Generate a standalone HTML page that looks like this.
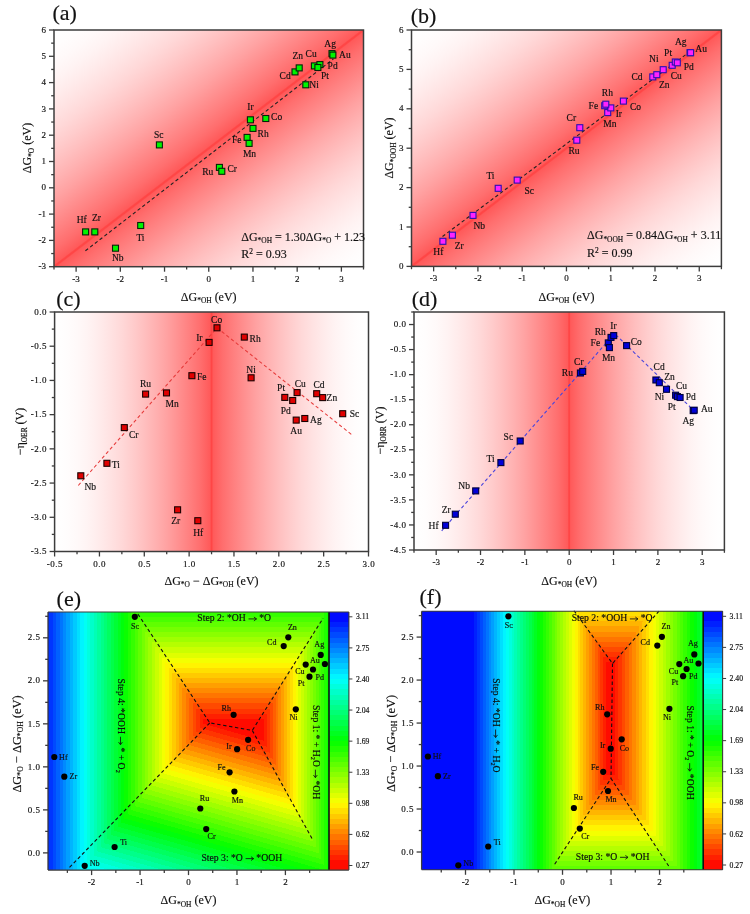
<!DOCTYPE html>
<html><head><meta charset="utf-8"><title>Figure</title>
<style>html,body{margin:0;padding:0;background:#fff}svg{display:block;will-change:transform;filter:blur(0.55px)}text{font-family:"Liberation Serif",serif;stroke:#111;stroke-width:.16px}</style></head>
<body>
<svg width="750" height="914" viewBox="0 0 750 914">
<rect width="750" height="914" fill="#fff"/>
<defs>
<linearGradient id="rb"><stop offset="0.0000" stop-color="#ff0b00"/><stop offset="0.0208" stop-color="#ff0b00"/><stop offset="0.0208" stop-color="#ff2000"/><stop offset="0.0417" stop-color="#ff2000"/><stop offset="0.0417" stop-color="#ff3500"/><stop offset="0.0625" stop-color="#ff3500"/><stop offset="0.0625" stop-color="#ff4a00"/><stop offset="0.0833" stop-color="#ff4a00"/><stop offset="0.0833" stop-color="#ff6000"/><stop offset="0.1042" stop-color="#ff6000"/><stop offset="0.1042" stop-color="#ff7500"/><stop offset="0.1250" stop-color="#ff7500"/><stop offset="0.1250" stop-color="#ff8a00"/><stop offset="0.1458" stop-color="#ff8a00"/><stop offset="0.1458" stop-color="#ff9f00"/><stop offset="0.1667" stop-color="#ff9f00"/><stop offset="0.1667" stop-color="#ffb500"/><stop offset="0.1875" stop-color="#ffb500"/><stop offset="0.1875" stop-color="#ffca00"/><stop offset="0.2083" stop-color="#ffca00"/><stop offset="0.2083" stop-color="#ffdf00"/><stop offset="0.2292" stop-color="#ffdf00"/><stop offset="0.2292" stop-color="#fff400"/><stop offset="0.2500" stop-color="#fff400"/><stop offset="0.2500" stop-color="#f4ff00"/><stop offset="0.2708" stop-color="#f4ff00"/><stop offset="0.2708" stop-color="#dfff00"/><stop offset="0.2917" stop-color="#dfff00"/><stop offset="0.2917" stop-color="#caff00"/><stop offset="0.3125" stop-color="#caff00"/><stop offset="0.3125" stop-color="#b5ff00"/><stop offset="0.3333" stop-color="#b5ff00"/><stop offset="0.3333" stop-color="#9fff00"/><stop offset="0.3542" stop-color="#9fff00"/><stop offset="0.3542" stop-color="#8aff00"/><stop offset="0.3750" stop-color="#8aff00"/><stop offset="0.3750" stop-color="#75ff00"/><stop offset="0.3958" stop-color="#75ff00"/><stop offset="0.3958" stop-color="#60ff00"/><stop offset="0.4167" stop-color="#60ff00"/><stop offset="0.4167" stop-color="#4aff00"/><stop offset="0.4375" stop-color="#4aff00"/><stop offset="0.4375" stop-color="#35ff00"/><stop offset="0.4583" stop-color="#35ff00"/><stop offset="0.4583" stop-color="#20ff00"/><stop offset="0.4792" stop-color="#20ff00"/><stop offset="0.4792" stop-color="#0bff00"/><stop offset="0.5000" stop-color="#0bff00"/><stop offset="0.5000" stop-color="#00ff0b"/><stop offset="0.5208" stop-color="#00ff0b"/><stop offset="0.5208" stop-color="#00ff20"/><stop offset="0.5417" stop-color="#00ff20"/><stop offset="0.5417" stop-color="#00ff35"/><stop offset="0.5625" stop-color="#00ff35"/><stop offset="0.5625" stop-color="#00ff4a"/><stop offset="0.5833" stop-color="#00ff4a"/><stop offset="0.5833" stop-color="#00ff60"/><stop offset="0.6042" stop-color="#00ff60"/><stop offset="0.6042" stop-color="#00ff75"/><stop offset="0.6250" stop-color="#00ff75"/><stop offset="0.6250" stop-color="#00ff8a"/><stop offset="0.6458" stop-color="#00ff8a"/><stop offset="0.6458" stop-color="#00ff9f"/><stop offset="0.6667" stop-color="#00ff9f"/><stop offset="0.6667" stop-color="#00ffb5"/><stop offset="0.6875" stop-color="#00ffb5"/><stop offset="0.6875" stop-color="#00ffca"/><stop offset="0.7083" stop-color="#00ffca"/><stop offset="0.7083" stop-color="#00ffdf"/><stop offset="0.7292" stop-color="#00ffdf"/><stop offset="0.7292" stop-color="#00fff4"/><stop offset="0.7500" stop-color="#00fff4"/><stop offset="0.7500" stop-color="#00f4ff"/><stop offset="0.7708" stop-color="#00f4ff"/><stop offset="0.7708" stop-color="#00dfff"/><stop offset="0.7917" stop-color="#00dfff"/><stop offset="0.7917" stop-color="#00caff"/><stop offset="0.8125" stop-color="#00caff"/><stop offset="0.8125" stop-color="#00b5ff"/><stop offset="0.8333" stop-color="#00b5ff"/><stop offset="0.8333" stop-color="#009fff"/><stop offset="0.8542" stop-color="#009fff"/><stop offset="0.8542" stop-color="#008aff"/><stop offset="0.8750" stop-color="#008aff"/><stop offset="0.8750" stop-color="#0075ff"/><stop offset="0.8958" stop-color="#0075ff"/><stop offset="0.8958" stop-color="#0060ff"/><stop offset="0.9167" stop-color="#0060ff"/><stop offset="0.9167" stop-color="#004aff"/><stop offset="0.9375" stop-color="#004aff"/><stop offset="0.9375" stop-color="#0035ff"/><stop offset="0.9583" stop-color="#0035ff"/><stop offset="0.9583" stop-color="#0020ff"/><stop offset="0.9792" stop-color="#0020ff"/><stop offset="0.9792" stop-color="#000bff"/><stop offset="1.0000" stop-color="#000bff"/></linearGradient>
<linearGradient id="ga" gradientUnits="userSpaceOnUse" x1="94.53" y1="-1.00" x2="322.97" y2="297.70"><stop offset="0.0000" stop-color="#ffffff"/><stop offset="0.0357" stop-color="#fffdfd"/><stop offset="0.0714" stop-color="#fff9f9"/><stop offset="0.1071" stop-color="#fff3f3"/><stop offset="0.1429" stop-color="#ffebeb"/><stop offset="0.1786" stop-color="#ffe2e2"/><stop offset="0.2143" stop-color="#ffd8d8"/><stop offset="0.2500" stop-color="#ffcccc"/><stop offset="0.2857" stop-color="#ffbfbf"/><stop offset="0.3214" stop-color="#ffb1b1"/><stop offset="0.3571" stop-color="#ffa2a2"/><stop offset="0.3929" stop-color="#ff9191"/><stop offset="0.4286" stop-color="#ff8080"/><stop offset="0.4643" stop-color="#ff6e6e"/><stop offset="0.4955" stop-color="#ff5a5a"/><stop offset="0.4985" stop-color="#ff4646"/><stop offset="0.5015" stop-color="#ff4646"/><stop offset="0.5045" stop-color="#ff5a5a"/><stop offset="0.5357" stop-color="#ff6e6e"/><stop offset="0.5714" stop-color="#ff8080"/><stop offset="0.6071" stop-color="#ff9191"/><stop offset="0.6429" stop-color="#ffa2a2"/><stop offset="0.6786" stop-color="#ffb1b1"/><stop offset="0.7143" stop-color="#ffbfbf"/><stop offset="0.7500" stop-color="#ffcccc"/><stop offset="0.7857" stop-color="#ffd8d8"/><stop offset="0.8214" stop-color="#ffe2e2"/><stop offset="0.8571" stop-color="#ffebeb"/><stop offset="0.8929" stop-color="#fff3f3"/><stop offset="0.9286" stop-color="#fff9f9"/><stop offset="0.9643" stop-color="#fffdfd"/><stop offset="1.0000" stop-color="#ffffff"/></linearGradient>
<linearGradient id="gb" gradientUnits="userSpaceOnUse" x1="452.45" y1="-1.24" x2="680.45" y2="297.64"><stop offset="0.0000" stop-color="#ffffff"/><stop offset="0.0357" stop-color="#fffdfd"/><stop offset="0.0714" stop-color="#fff9f9"/><stop offset="0.1071" stop-color="#fff3f3"/><stop offset="0.1429" stop-color="#ffebeb"/><stop offset="0.1786" stop-color="#ffe2e2"/><stop offset="0.2143" stop-color="#ffd8d8"/><stop offset="0.2500" stop-color="#ffcccc"/><stop offset="0.2857" stop-color="#ffbfbf"/><stop offset="0.3214" stop-color="#ffb1b1"/><stop offset="0.3571" stop-color="#ffa2a2"/><stop offset="0.3929" stop-color="#ff9191"/><stop offset="0.4286" stop-color="#ff8080"/><stop offset="0.4643" stop-color="#ff6e6e"/><stop offset="0.4955" stop-color="#ff5a5a"/><stop offset="0.4985" stop-color="#ff4646"/><stop offset="0.5015" stop-color="#ff4646"/><stop offset="0.5045" stop-color="#ff5a5a"/><stop offset="0.5357" stop-color="#ff6e6e"/><stop offset="0.5714" stop-color="#ff8080"/><stop offset="0.6071" stop-color="#ff9191"/><stop offset="0.6429" stop-color="#ffa2a2"/><stop offset="0.6786" stop-color="#ffb1b1"/><stop offset="0.7143" stop-color="#ffbfbf"/><stop offset="0.7500" stop-color="#ffcccc"/><stop offset="0.7857" stop-color="#ffd8d8"/><stop offset="0.8214" stop-color="#ffe2e2"/><stop offset="0.8571" stop-color="#ffebeb"/><stop offset="0.8929" stop-color="#fff3f3"/><stop offset="0.9286" stop-color="#fff9f9"/><stop offset="0.9643" stop-color="#fffdfd"/><stop offset="1.0000" stop-color="#ffffff"/></linearGradient>
<linearGradient id="gc" gradientUnits="userSpaceOnUse" x1="54.60" y1="0" x2="368.50" y2="0"><stop offset="0.0000" stop-color="#ffffff"/><stop offset="0.0357" stop-color="#fffdfd"/><stop offset="0.0714" stop-color="#fff9f9"/><stop offset="0.1071" stop-color="#fff3f3"/><stop offset="0.1429" stop-color="#ffebeb"/><stop offset="0.1786" stop-color="#ffe2e2"/><stop offset="0.2143" stop-color="#ffd8d8"/><stop offset="0.2500" stop-color="#ffcccc"/><stop offset="0.2857" stop-color="#ffbfbf"/><stop offset="0.3214" stop-color="#ffb1b1"/><stop offset="0.3571" stop-color="#ffa2a2"/><stop offset="0.3929" stop-color="#ff9191"/><stop offset="0.4286" stop-color="#ff8080"/><stop offset="0.4643" stop-color="#ff6e6e"/><stop offset="0.4955" stop-color="#ff5a5a"/><stop offset="0.4985" stop-color="#ff4646"/><stop offset="0.5015" stop-color="#ff4646"/><stop offset="0.5045" stop-color="#ff5a5a"/><stop offset="0.5357" stop-color="#ff6e6e"/><stop offset="0.5714" stop-color="#ff8080"/><stop offset="0.6071" stop-color="#ff9191"/><stop offset="0.6429" stop-color="#ffa2a2"/><stop offset="0.6786" stop-color="#ffb1b1"/><stop offset="0.7143" stop-color="#ffbfbf"/><stop offset="0.7500" stop-color="#ffcccc"/><stop offset="0.7857" stop-color="#ffd8d8"/><stop offset="0.8214" stop-color="#ffe2e2"/><stop offset="0.8571" stop-color="#ffebeb"/><stop offset="0.8929" stop-color="#fff3f3"/><stop offset="0.9286" stop-color="#fff9f9"/><stop offset="0.9643" stop-color="#fffdfd"/><stop offset="1.0000" stop-color="#ffffff"/></linearGradient>
<linearGradient id="gd" gradientUnits="userSpaceOnUse" x1="414.00" y1="0" x2="724.40" y2="0"><stop offset="0.0000" stop-color="#ffffff"/><stop offset="0.0357" stop-color="#fffdfd"/><stop offset="0.0714" stop-color="#fff9f9"/><stop offset="0.1071" stop-color="#fff3f3"/><stop offset="0.1429" stop-color="#ffebeb"/><stop offset="0.1786" stop-color="#ffe2e2"/><stop offset="0.2143" stop-color="#ffd8d8"/><stop offset="0.2500" stop-color="#ffcccc"/><stop offset="0.2857" stop-color="#ffbfbf"/><stop offset="0.3214" stop-color="#ffb1b1"/><stop offset="0.3571" stop-color="#ffa2a2"/><stop offset="0.3929" stop-color="#ff9191"/><stop offset="0.4286" stop-color="#ff8080"/><stop offset="0.4643" stop-color="#ff6e6e"/><stop offset="0.4955" stop-color="#ff5a5a"/><stop offset="0.4985" stop-color="#ff4646"/><stop offset="0.5015" stop-color="#ff4646"/><stop offset="0.5045" stop-color="#ff5a5a"/><stop offset="0.5357" stop-color="#ff6e6e"/><stop offset="0.5714" stop-color="#ff8080"/><stop offset="0.6071" stop-color="#ff9191"/><stop offset="0.6429" stop-color="#ffa2a2"/><stop offset="0.6786" stop-color="#ffb1b1"/><stop offset="0.7143" stop-color="#ffbfbf"/><stop offset="0.7500" stop-color="#ffcccc"/><stop offset="0.7857" stop-color="#ffd8d8"/><stop offset="0.8214" stop-color="#ffe2e2"/><stop offset="0.8571" stop-color="#ffebeb"/><stop offset="0.8929" stop-color="#fff3f3"/><stop offset="0.9286" stop-color="#fff9f9"/><stop offset="0.9643" stop-color="#fffdfd"/><stop offset="1.0000" stop-color="#ffffff"/></linearGradient>
<linearGradient id="eg0" href="#rb" gradientUnits="userSpaceOnUse" x1="261.17" y1="0.00" x2="398.77" y2="0.00"/>
<linearGradient id="eg1" href="#rb" gradientUnits="userSpaceOnUse" x1="-0.00" y1="723.84" x2="0.00" y2="479.51"/>
<linearGradient id="eg2" href="#rb" gradientUnits="userSpaceOnUse" x1="-173.73" y1="611.46" x2="-237.97" y2="837.54"/>
<linearGradient id="eg3" href="#rb" gradientUnits="userSpaceOnUse" x1="206.38" y1="-0.00" x2="42.58" y2="0.00"/>
<linearGradient id="ecb" href="#rb" gradientUnits="userSpaceOnUse" x1="0" y1="865.50" x2="0" y2="616.80"/>
<linearGradient id="fg0" href="#rb" gradientUnits="userSpaceOnUse" x1="611.61" y1="0.00" x2="775.62" y2="0.00"/>
<linearGradient id="fg1" href="#rb" gradientUnits="userSpaceOnUse" x1="-0.00" y1="667.18" x2="0.00" y2="423.03"/>
<linearGradient id="fg2" href="#rb" gradientUnits="userSpaceOnUse" x1="0.00" y1="769.48" x2="0.00" y2="1013.62"/>
<linearGradient id="fg3" href="#rb" gradientUnits="userSpaceOnUse" x1="609.09" y1="-0.00" x2="471.32" y2="0.00"/>
<linearGradient id="fcb" href="#rb" gradientUnits="userSpaceOnUse" x1="0" y1="865.00" x2="0" y2="616.30"/>
</defs>
<rect x="54.0" y="30.0" width="309.50" height="236.70" fill="url(#ga)"/>
<line x1="85.4" y1="250.8" x2="333.4" y2="59.0" stroke="#222" stroke-width="1.1" stroke-dasharray="3.4 2.6"/>
<g stroke="#3c3c3c" stroke-width="1.3" fill="none"><line x1="54.00" y1="266.70" x2="54.00" y2="269.50"/><line x1="98.21" y1="266.70" x2="98.21" y2="269.50"/><line x1="142.43" y1="266.70" x2="142.43" y2="269.50"/><line x1="186.64" y1="266.70" x2="186.64" y2="269.50"/><line x1="230.86" y1="266.70" x2="230.86" y2="269.50"/><line x1="275.07" y1="266.70" x2="275.07" y2="269.50"/><line x1="319.29" y1="266.70" x2="319.29" y2="269.50"/><line x1="363.50" y1="266.70" x2="363.50" y2="269.50"/><line x1="76.11" y1="266.70" x2="76.11" y2="271.70"/><line x1="120.32" y1="266.70" x2="120.32" y2="271.70"/><line x1="164.54" y1="266.70" x2="164.54" y2="271.70"/><line x1="208.75" y1="266.70" x2="208.75" y2="271.70"/><line x1="252.96" y1="266.70" x2="252.96" y2="271.70"/><line x1="297.18" y1="266.70" x2="297.18" y2="271.70"/><line x1="341.39" y1="266.70" x2="341.39" y2="271.70"/><line x1="54.00" y1="253.55" x2="51.20" y2="253.55"/><line x1="54.00" y1="227.25" x2="51.20" y2="227.25"/><line x1="54.00" y1="200.95" x2="51.20" y2="200.95"/><line x1="54.00" y1="174.65" x2="51.20" y2="174.65"/><line x1="54.00" y1="148.35" x2="51.20" y2="148.35"/><line x1="54.00" y1="122.05" x2="51.20" y2="122.05"/><line x1="54.00" y1="95.75" x2="51.20" y2="95.75"/><line x1="54.00" y1="69.45" x2="51.20" y2="69.45"/><line x1="54.00" y1="43.15" x2="51.20" y2="43.15"/><line x1="54.00" y1="266.70" x2="49.00" y2="266.70"/><line x1="54.00" y1="240.40" x2="49.00" y2="240.40"/><line x1="54.00" y1="214.10" x2="49.00" y2="214.10"/><line x1="54.00" y1="187.80" x2="49.00" y2="187.80"/><line x1="54.00" y1="161.50" x2="49.00" y2="161.50"/><line x1="54.00" y1="135.20" x2="49.00" y2="135.20"/><line x1="54.00" y1="108.90" x2="49.00" y2="108.90"/><line x1="54.00" y1="82.60" x2="49.00" y2="82.60"/><line x1="54.00" y1="56.30" x2="49.00" y2="56.30"/><line x1="54.00" y1="30.00" x2="49.00" y2="30.00"/></g>
<rect x="54.00" y="30.00" width="309.50" height="236.70" fill="none" stroke="#3c3c3c" stroke-width="1.5"/>
<text x="76.1" y="281.7" font-size="9.0" text-anchor="middle" fill="#111">-3</text><text x="120.3" y="281.7" font-size="9.0" text-anchor="middle" fill="#111">-2</text><text x="164.5" y="281.7" font-size="9.0" text-anchor="middle" fill="#111">-1</text><text x="208.8" y="281.7" font-size="9.0" text-anchor="middle" fill="#111">0</text><text x="253.0" y="281.7" font-size="9.0" text-anchor="middle" fill="#111">1</text><text x="297.2" y="281.7" font-size="9.0" text-anchor="middle" fill="#111">2</text><text x="341.4" y="281.7" font-size="9.0" text-anchor="middle" fill="#111">3</text><text x="46.0" y="269.3" font-size="9.0" text-anchor="end" fill="#111">-3</text><text x="46.0" y="243.0" font-size="9.0" text-anchor="end" fill="#111">-2</text><text x="46.0" y="216.7" font-size="9.0" text-anchor="end" fill="#111">-1</text><text x="46.0" y="190.4" font-size="9.0" text-anchor="end" fill="#111">0</text><text x="46.0" y="164.1" font-size="9.0" text-anchor="end" fill="#111">1</text><text x="46.0" y="137.8" font-size="9.0" text-anchor="end" fill="#111">2</text><text x="46.0" y="111.5" font-size="9.0" text-anchor="end" fill="#111">3</text><text x="46.0" y="85.2" font-size="9.0" text-anchor="end" fill="#111">4</text><text x="46.0" y="58.9" font-size="9.0" text-anchor="end" fill="#111">5</text><text x="46.0" y="32.6" font-size="9.0" text-anchor="end" fill="#111">6</text>
<g fill="#00f400" stroke="#082008" stroke-width="1.1"><rect x="82.6" y="228.9" width="6.0" height="6.0"/><rect x="91.8" y="228.9" width="6.0" height="6.0"/><rect x="112.5" y="245.2" width="6.0" height="6.0"/><rect x="137.7" y="222.5" width="6.0" height="6.0"/><rect x="156.4" y="141.9" width="6.0" height="6.0"/><rect x="216.4" y="164.4" width="6.0" height="6.0"/><rect x="218.8" y="168.3" width="6.0" height="6.0"/><rect x="244.1" y="134.4" width="6.0" height="6.0"/><rect x="246.1" y="140.4" width="6.0" height="6.0"/><rect x="247.4" y="116.8" width="6.0" height="6.0"/><rect x="250.0" y="125.4" width="6.0" height="6.0"/><rect x="262.8" y="115.5" width="6.0" height="6.0"/><rect x="292.0" y="68.9" width="6.0" height="6.0"/><rect x="296.2" y="64.9" width="6.0" height="6.0"/><rect x="302.8" y="81.8" width="6.0" height="6.0"/><rect x="311.4" y="62.9" width="6.0" height="6.0"/><rect x="316.9" y="61.6" width="6.0" height="6.0"/><rect x="314.9" y="64.5" width="6.0" height="6.0"/><rect x="329.0" y="50.6" width="6.0" height="6.0"/><rect x="329.9" y="52.1" width="6.0" height="6.0"/></g>
<text x="324.3" y="47.0" font-size="9.5" text-anchor="start" fill="#111">Ag</text><text x="339.1" y="58.0" font-size="9.5" text-anchor="start" fill="#111">Au</text><text x="305.6" y="56.9" font-size="9.5" text-anchor="start" fill="#111">Cu</text><text x="292.4" y="59.1" font-size="9.5" text-anchor="start" fill="#111">Zn</text><text x="327.6" y="69.0" font-size="9.5" text-anchor="start" fill="#111">Pd</text><text x="321.0" y="78.9" font-size="9.5" text-anchor="start" fill="#111">Pt</text><text x="279.6" y="78.9" font-size="9.5" text-anchor="start" fill="#111">Cd</text><text x="309.3" y="87.7" font-size="9.5" text-anchor="start" fill="#111">Ni</text><text x="247.3" y="110.1" font-size="9.5" text-anchor="start" fill="#111">Ir</text><text x="271.1" y="120.3" font-size="9.5" text-anchor="start" fill="#111">Co</text><text x="257.6" y="137.2" font-size="9.5" text-anchor="start" fill="#111">Rh</text><text x="231.9" y="142.7" font-size="9.5" text-anchor="start" fill="#111">Fe</text><text x="242.9" y="157.0" font-size="9.5" text-anchor="start" fill="#111">Mn</text><text x="202.2" y="175.0" font-size="9.5" text-anchor="start" fill="#111">Ru</text><text x="227.5" y="172.0" font-size="9.5" text-anchor="start" fill="#111">Cr</text><text x="154.0" y="137.5" font-size="9.5" text-anchor="start" fill="#111">Sc</text><text x="76.7" y="222.8" font-size="9.5" text-anchor="start" fill="#111">Hf</text><text x="92.0" y="220.6" font-size="9.5" text-anchor="start" fill="#111">Zr</text><text x="136.4" y="240.7" font-size="9.5" text-anchor="start" fill="#111">Ti</text><text x="111.9" y="261.2" font-size="9.5" text-anchor="start" fill="#111">Nb</text>
<text x="241.2" y="240.8" font-size="12" text-anchor="start" fill="#111">&#916;G<tspan font-size="7.44" dy="2.64">*OH</tspan><tspan dy="-2.64" font-size="12">&#8203;</tspan> = 1.30&#916;G<tspan font-size="7.44" dy="2.64">*O</tspan><tspan dy="-2.64" font-size="12">&#8203;</tspan> + 1.23</text>
<text x="241.2" y="258.3" font-size="12" text-anchor="start" fill="#111">R<tspan font-size="7.44" dy="-4.56">2</tspan><tspan dy="4.56" font-size="12">&#8203;</tspan> = 0.93</text>
<text x="208.7" y="300.8" font-size="12" text-anchor="middle" fill="#111">&#916;G<tspan font-size="7.44" dy="2.64">*OH</tspan><tspan dy="-2.64" font-size="12">&#8203;</tspan> (eV)</text>
<text x="31.0" y="148.0" font-size="12" text-anchor="middle" fill="#111" transform="rotate(-90 31.0 148.0)">&#916;G<tspan font-size="7.44" dy="2.64">*O</tspan><tspan dy="-2.64" font-size="12">&#8203;</tspan> (eV)</text>
<text x="52.4" y="20.3" font-size="22" text-anchor="start" fill="#111">(a)</text>
<rect x="411.5" y="30.0" width="309.90" height="236.40" fill="url(#gb)"/>
<line x1="442.5" y1="236.5" x2="691.3" y2="50.5" stroke="#222" stroke-width="1.1" stroke-dasharray="3.4 2.6"/>
<g stroke="#3c3c3c" stroke-width="1.3" fill="none"><line x1="411.50" y1="266.40" x2="411.50" y2="269.20"/><line x1="455.77" y1="266.40" x2="455.77" y2="269.20"/><line x1="500.04" y1="266.40" x2="500.04" y2="269.20"/><line x1="544.31" y1="266.40" x2="544.31" y2="269.20"/><line x1="588.59" y1="266.40" x2="588.59" y2="269.20"/><line x1="632.86" y1="266.40" x2="632.86" y2="269.20"/><line x1="677.13" y1="266.40" x2="677.13" y2="269.20"/><line x1="721.40" y1="266.40" x2="721.40" y2="269.20"/><line x1="433.64" y1="266.40" x2="433.64" y2="271.40"/><line x1="477.91" y1="266.40" x2="477.91" y2="271.40"/><line x1="522.18" y1="266.40" x2="522.18" y2="271.40"/><line x1="566.45" y1="266.40" x2="566.45" y2="271.40"/><line x1="610.72" y1="266.40" x2="610.72" y2="271.40"/><line x1="654.99" y1="266.40" x2="654.99" y2="271.40"/><line x1="699.26" y1="266.40" x2="699.26" y2="271.40"/><line x1="411.50" y1="246.70" x2="408.70" y2="246.70"/><line x1="411.50" y1="207.30" x2="408.70" y2="207.30"/><line x1="411.50" y1="167.90" x2="408.70" y2="167.90"/><line x1="411.50" y1="128.50" x2="408.70" y2="128.50"/><line x1="411.50" y1="89.10" x2="408.70" y2="89.10"/><line x1="411.50" y1="49.70" x2="408.70" y2="49.70"/><line x1="411.50" y1="266.40" x2="406.50" y2="266.40"/><line x1="411.50" y1="227.00" x2="406.50" y2="227.00"/><line x1="411.50" y1="187.60" x2="406.50" y2="187.60"/><line x1="411.50" y1="148.20" x2="406.50" y2="148.20"/><line x1="411.50" y1="108.80" x2="406.50" y2="108.80"/><line x1="411.50" y1="69.40" x2="406.50" y2="69.40"/><line x1="411.50" y1="30.00" x2="406.50" y2="30.00"/></g>
<rect x="411.50" y="30.00" width="309.90" height="236.40" fill="none" stroke="#3c3c3c" stroke-width="1.5"/>
<text x="433.6" y="281.4" font-size="9.0" text-anchor="middle" fill="#111">-3</text><text x="477.9" y="281.4" font-size="9.0" text-anchor="middle" fill="#111">-2</text><text x="522.2" y="281.4" font-size="9.0" text-anchor="middle" fill="#111">-1</text><text x="566.5" y="281.4" font-size="9.0" text-anchor="middle" fill="#111">0</text><text x="610.7" y="281.4" font-size="9.0" text-anchor="middle" fill="#111">1</text><text x="655.0" y="281.4" font-size="9.0" text-anchor="middle" fill="#111">2</text><text x="699.3" y="281.4" font-size="9.0" text-anchor="middle" fill="#111">3</text><text x="403.5" y="269.0" font-size="9.0" text-anchor="end" fill="#111">0</text><text x="403.5" y="229.6" font-size="9.0" text-anchor="end" fill="#111">1</text><text x="403.5" y="190.2" font-size="9.0" text-anchor="end" fill="#111">2</text><text x="403.5" y="150.8" font-size="9.0" text-anchor="end" fill="#111">3</text><text x="403.5" y="111.4" font-size="9.0" text-anchor="end" fill="#111">4</text><text x="403.5" y="72.0" font-size="9.0" text-anchor="end" fill="#111">5</text><text x="403.5" y="32.6" font-size="9.0" text-anchor="end" fill="#111">6</text>
<g fill="#ff22ff" stroke="#2a10b0" stroke-width="1.1"><rect x="439.9" y="238.3" width="6.0" height="6.0"/><rect x="449.4" y="232.2" width="6.0" height="6.0"/><rect x="470.0" y="212.4" width="6.0" height="6.0"/><rect x="495.2" y="185.3" width="6.0" height="6.0"/><rect x="514.2" y="177.1" width="6.0" height="6.0"/><rect x="573.8" y="137.2" width="6.0" height="6.0"/><rect x="576.8" y="124.7" width="6.0" height="6.0"/><rect x="604.7" y="109.6" width="6.0" height="6.0"/><rect x="607.8" y="104.9" width="6.0" height="6.0"/><rect x="601.7" y="102.7" width="6.0" height="6.0"/><rect x="602.8" y="101.2" width="6.0" height="6.0"/><rect x="620.4" y="98.1" width="6.0" height="6.0"/><rect x="649.8" y="73.9" width="6.0" height="6.0"/><rect x="653.8" y="71.7" width="6.0" height="6.0"/><rect x="660.2" y="66.7" width="6.0" height="6.0"/><rect x="669.2" y="62.3" width="6.0" height="6.0"/><rect x="672.3" y="59.0" width="6.0" height="6.0"/><rect x="674.3" y="59.8" width="6.0" height="6.0"/><rect x="687.0" y="49.7" width="6.0" height="6.0"/><rect x="687.6" y="49.7" width="6.0" height="6.0"/></g>
<text x="674.9" y="45.2" font-size="9.5" text-anchor="start" fill="#111">Ag</text><text x="695.3" y="51.8" font-size="9.5" text-anchor="start" fill="#111">Au</text><text x="664.1" y="55.8" font-size="9.5" text-anchor="start" fill="#111">Pt</text><text x="649.1" y="62.4" font-size="9.5" text-anchor="start" fill="#111">Ni</text><text x="683.7" y="69.7" font-size="9.5" text-anchor="start" fill="#111">Pd</text><text x="670.7" y="78.5" font-size="9.5" text-anchor="start" fill="#111">Cu</text><text x="631.5" y="80.4" font-size="9.5" text-anchor="start" fill="#111">Cd</text><text x="659.0" y="88.1" font-size="9.5" text-anchor="start" fill="#111">Zn</text><text x="601.8" y="96.1" font-size="9.5" text-anchor="start" fill="#111">Rh</text><text x="588.6" y="109.3" font-size="9.5" text-anchor="start" fill="#111">Fe</text><text x="630.0" y="109.7" font-size="9.5" text-anchor="start" fill="#111">Co</text><text x="615.7" y="117.0" font-size="9.5" text-anchor="start" fill="#111">Ir</text><text x="603.3" y="127.3" font-size="9.5" text-anchor="start" fill="#111">Mn</text><text x="566.6" y="121.1" font-size="9.5" text-anchor="start" fill="#111">Cr</text><text x="568.4" y="154.4" font-size="9.5" text-anchor="start" fill="#111">Ru</text><text x="486.4" y="178.7" font-size="9.5" text-anchor="start" fill="#111">Ti</text><text x="524.5" y="194.1" font-size="9.5" text-anchor="start" fill="#111">Sc</text><text x="473.5" y="229.0" font-size="9.5" text-anchor="start" fill="#111">Nb</text><text x="454.7" y="249.0" font-size="9.5" text-anchor="start" fill="#111">Zr</text><text x="433.3" y="254.7" font-size="9.5" text-anchor="start" fill="#111">Hf</text>
<text x="587.0" y="239.0" font-size="12" text-anchor="start" fill="#111">&#916;G<tspan font-size="7.44" dy="2.64">*OOH</tspan><tspan dy="-2.64" font-size="12">&#8203;</tspan> = 0.84&#916;G<tspan font-size="7.44" dy="2.64">*OH</tspan><tspan dy="-2.64" font-size="12">&#8203;</tspan> + 3.11</text>
<text x="587.0" y="257.2" font-size="12" text-anchor="start" fill="#111">R<tspan font-size="7.44" dy="-4.56">2</tspan><tspan dy="4.56" font-size="12">&#8203;</tspan> = 0.99</text>
<text x="566.5" y="300.8" font-size="12" text-anchor="middle" fill="#111">&#916;G<tspan font-size="7.44" dy="2.64">*OH</tspan><tspan dy="-2.64" font-size="12">&#8203;</tspan> (eV)</text>
<text x="393.0" y="148.0" font-size="12" text-anchor="middle" fill="#111" transform="rotate(-90 393.0 148.0)">&#916;G<tspan font-size="7.44" dy="2.64">*OOH</tspan><tspan dy="-2.64" font-size="12">&#8203;</tspan> (eV)</text>
<text x="410.8" y="23.2" font-size="22" text-anchor="start" fill="#111">(b)</text>
<rect x="54.6" y="312.0" width="313.90" height="239.50" fill="url(#gc)"/>
<polyline points="78.3,485.5 217,327.8 351.9,434.8" fill="none" stroke="#e63a3a" stroke-width="1.05" stroke-dasharray="3.4 2.6"/>
<g stroke="#3c3c3c" stroke-width="1.3" fill="none"><line x1="77.02" y1="551.50" x2="77.02" y2="554.30"/><line x1="121.86" y1="551.50" x2="121.86" y2="554.30"/><line x1="166.71" y1="551.50" x2="166.71" y2="554.30"/><line x1="211.55" y1="551.50" x2="211.55" y2="554.30"/><line x1="256.39" y1="551.50" x2="256.39" y2="554.30"/><line x1="301.24" y1="551.50" x2="301.24" y2="554.30"/><line x1="346.08" y1="551.50" x2="346.08" y2="554.30"/><line x1="54.60" y1="551.50" x2="54.60" y2="556.50"/><line x1="99.44" y1="551.50" x2="99.44" y2="556.50"/><line x1="144.29" y1="551.50" x2="144.29" y2="556.50"/><line x1="189.13" y1="551.50" x2="189.13" y2="556.50"/><line x1="233.97" y1="551.50" x2="233.97" y2="556.50"/><line x1="278.81" y1="551.50" x2="278.81" y2="556.50"/><line x1="323.66" y1="551.50" x2="323.66" y2="556.50"/><line x1="368.50" y1="551.50" x2="368.50" y2="556.50"/><line x1="54.60" y1="534.39" x2="51.80" y2="534.39"/><line x1="54.60" y1="500.18" x2="51.80" y2="500.18"/><line x1="54.60" y1="465.96" x2="51.80" y2="465.96"/><line x1="54.60" y1="431.75" x2="51.80" y2="431.75"/><line x1="54.60" y1="397.54" x2="51.80" y2="397.54"/><line x1="54.60" y1="363.32" x2="51.80" y2="363.32"/><line x1="54.60" y1="329.11" x2="51.80" y2="329.11"/><line x1="54.60" y1="551.50" x2="49.60" y2="551.50"/><line x1="54.60" y1="517.29" x2="49.60" y2="517.29"/><line x1="54.60" y1="483.07" x2="49.60" y2="483.07"/><line x1="54.60" y1="448.86" x2="49.60" y2="448.86"/><line x1="54.60" y1="414.64" x2="49.60" y2="414.64"/><line x1="54.60" y1="380.43" x2="49.60" y2="380.43"/><line x1="54.60" y1="346.21" x2="49.60" y2="346.21"/><line x1="54.60" y1="312.00" x2="49.60" y2="312.00"/></g>
<rect x="54.60" y="312.00" width="313.90" height="239.50" fill="none" stroke="#3c3c3c" stroke-width="1.5"/>
<text x="54.9" y="566.5" font-size="9.0" text-anchor="middle" fill="#111" letter-spacing="0.5">-0.5</text><text x="99.7" y="566.5" font-size="9.0" text-anchor="middle" fill="#111" letter-spacing="0.5">0.0</text><text x="144.5" y="566.5" font-size="9.0" text-anchor="middle" fill="#111" letter-spacing="0.5">0.5</text><text x="189.4" y="566.5" font-size="9.0" text-anchor="middle" fill="#111" letter-spacing="0.5">1.0</text><text x="234.2" y="566.5" font-size="9.0" text-anchor="middle" fill="#111" letter-spacing="0.5">1.5</text><text x="279.1" y="566.5" font-size="9.0" text-anchor="middle" fill="#111" letter-spacing="0.5">2.0</text><text x="323.9" y="566.5" font-size="9.0" text-anchor="middle" fill="#111" letter-spacing="0.5">2.5</text><text x="368.8" y="566.5" font-size="9.0" text-anchor="middle" fill="#111" letter-spacing="0.5">3.0</text><text x="47.1" y="554.1" font-size="9.0" text-anchor="end" fill="#111" letter-spacing="0.5">-3.5</text><text x="47.1" y="519.9" font-size="9.0" text-anchor="end" fill="#111" letter-spacing="0.5">-3.0</text><text x="47.1" y="485.7" font-size="9.0" text-anchor="end" fill="#111" letter-spacing="0.5">-2.5</text><text x="47.1" y="451.5" font-size="9.0" text-anchor="end" fill="#111" letter-spacing="0.5">-2.0</text><text x="47.1" y="417.3" font-size="9.0" text-anchor="end" fill="#111" letter-spacing="0.5">-1.5</text><text x="47.1" y="383.0" font-size="9.0" text-anchor="end" fill="#111" letter-spacing="0.5">-1.0</text><text x="47.1" y="348.8" font-size="9.0" text-anchor="end" fill="#111" letter-spacing="0.5">-0.5</text><text x="47.1" y="314.6" font-size="9.0" text-anchor="end" fill="#111" letter-spacing="0.5">0.0</text>
<g fill="#e00000" stroke="#1a0000" stroke-width="1.1"><rect x="214.0" y="324.8" width="6.0" height="6.0"/><rect x="206.1" y="339.4" width="6.0" height="6.0"/><rect x="188.9" y="372.7" width="6.0" height="6.0"/><rect x="163.5" y="389.9" width="6.0" height="6.0"/><rect x="142.6" y="391.1" width="6.0" height="6.0"/><rect x="121.3" y="424.6" width="6.0" height="6.0"/><rect x="103.9" y="460.3" width="6.0" height="6.0"/><rect x="77.8" y="472.8" width="6.0" height="6.0"/><rect x="174.6" y="506.8" width="6.0" height="6.0"/><rect x="194.8" y="517.7" width="6.0" height="6.0"/><rect x="241.3" y="334.1" width="6.0" height="6.0"/><rect x="248.1" y="374.8" width="6.0" height="6.0"/><rect x="281.8" y="394.4" width="6.0" height="6.0"/><rect x="294.1" y="389.6" width="6.0" height="6.0"/><rect x="289.7" y="397.5" width="6.0" height="6.0"/><rect x="313.7" y="390.7" width="6.0" height="6.0"/><rect x="319.7" y="394.6" width="6.0" height="6.0"/><rect x="293.2" y="417.1" width="6.0" height="6.0"/><rect x="301.8" y="415.5" width="6.0" height="6.0"/><rect x="339.7" y="410.7" width="6.0" height="6.0"/></g>
<text x="211.1" y="323.0" font-size="9.5" text-anchor="start" fill="#111">Co</text><text x="196.2" y="340.9" font-size="9.5" text-anchor="start" fill="#111">Ir</text><text x="249.6" y="341.7" font-size="9.5" text-anchor="start" fill="#111">Rh</text><text x="196.9" y="379.5" font-size="9.5" text-anchor="start" fill="#111">Fe</text><text x="140.0" y="386.7" font-size="9.5" text-anchor="start" fill="#111">Ru</text><text x="165.6" y="406.7" font-size="9.5" text-anchor="start" fill="#111">Mn</text><text x="128.9" y="437.9" font-size="9.5" text-anchor="start" fill="#111">Cr</text><text x="111.7" y="468.2" font-size="9.5" text-anchor="start" fill="#111">Ti</text><text x="84.5" y="490.2" font-size="9.5" text-anchor="start" fill="#111">Nb</text><text x="171.3" y="524.2" font-size="9.5" text-anchor="start" fill="#111">Zr</text><text x="193.2" y="535.5" font-size="9.5" text-anchor="start" fill="#111">Hf</text><text x="246.3" y="373.3" font-size="9.5" text-anchor="start" fill="#111">Ni</text><text x="277.1" y="391.2" font-size="9.5" text-anchor="start" fill="#111">Pt</text><text x="294.7" y="386.8" font-size="9.5" text-anchor="start" fill="#111">Cu</text><text x="313.4" y="388.3" font-size="9.5" text-anchor="start" fill="#111">Cd</text><text x="326.6" y="401.1" font-size="9.5" text-anchor="start" fill="#111">Zn</text><text x="280.8" y="413.6" font-size="9.5" text-anchor="start" fill="#111">Pd</text><text x="290.3" y="434.1" font-size="9.5" text-anchor="start" fill="#111">Au</text><text x="310.1" y="423.1" font-size="9.5" text-anchor="start" fill="#111">Ag</text><text x="349.7" y="417.3" font-size="9.5" text-anchor="start" fill="#111">Sc</text>
<text x="211.5" y="584.5" font-size="12" text-anchor="middle" fill="#111">&#916;G<tspan font-size="7.44" dy="2.64">*O</tspan><tspan dy="-2.64" font-size="12">&#8203;</tspan> &#8722; &#916;G<tspan font-size="7.44" dy="2.64">*OH</tspan><tspan dy="-2.64" font-size="12">&#8203;</tspan> (eV)</text>
<text x="24.0" y="431.5" font-size="12" text-anchor="middle" fill="#111" transform="rotate(-90 24.0 431.5)">&#8722;&#951;<tspan font-size="7.44" dy="2.64">OER</tspan><tspan dy="-2.64" font-size="12">&#8203;</tspan> (V)</text>
<text x="56.2" y="306.1" font-size="22" text-anchor="start" fill="#111">(c)</text>
<rect x="414.0" y="312.0" width="310.40" height="238.00" fill="url(#gd)"/>
<polyline points="441.7,530.8 614.5,333.5 693.7,410.4" fill="none" stroke="#4a44dc" stroke-width="1.1" stroke-dasharray="3.4 2.6"/>
<g stroke="#3c3c3c" stroke-width="1.3" fill="none"><line x1="414.00" y1="550.00" x2="414.00" y2="552.80"/><line x1="458.34" y1="550.00" x2="458.34" y2="552.80"/><line x1="502.69" y1="550.00" x2="502.69" y2="552.80"/><line x1="547.03" y1="550.00" x2="547.03" y2="552.80"/><line x1="591.37" y1="550.00" x2="591.37" y2="552.80"/><line x1="635.71" y1="550.00" x2="635.71" y2="552.80"/><line x1="680.06" y1="550.00" x2="680.06" y2="552.80"/><line x1="724.40" y1="550.00" x2="724.40" y2="552.80"/><line x1="436.17" y1="550.00" x2="436.17" y2="555.00"/><line x1="480.51" y1="550.00" x2="480.51" y2="555.00"/><line x1="524.86" y1="550.00" x2="524.86" y2="555.00"/><line x1="569.20" y1="550.00" x2="569.20" y2="555.00"/><line x1="613.54" y1="550.00" x2="613.54" y2="555.00"/><line x1="657.89" y1="550.00" x2="657.89" y2="555.00"/><line x1="702.23" y1="550.00" x2="702.23" y2="555.00"/><line x1="414.00" y1="537.47" x2="411.20" y2="537.47"/><line x1="414.00" y1="512.42" x2="411.20" y2="512.42"/><line x1="414.00" y1="487.37" x2="411.20" y2="487.37"/><line x1="414.00" y1="462.32" x2="411.20" y2="462.32"/><line x1="414.00" y1="437.26" x2="411.20" y2="437.26"/><line x1="414.00" y1="412.21" x2="411.20" y2="412.21"/><line x1="414.00" y1="387.16" x2="411.20" y2="387.16"/><line x1="414.00" y1="362.11" x2="411.20" y2="362.11"/><line x1="414.00" y1="337.05" x2="411.20" y2="337.05"/><line x1="414.00" y1="312.00" x2="411.20" y2="312.00"/><line x1="414.00" y1="550.00" x2="409.00" y2="550.00"/><line x1="414.00" y1="524.95" x2="409.00" y2="524.95"/><line x1="414.00" y1="499.89" x2="409.00" y2="499.89"/><line x1="414.00" y1="474.84" x2="409.00" y2="474.84"/><line x1="414.00" y1="449.79" x2="409.00" y2="449.79"/><line x1="414.00" y1="424.74" x2="409.00" y2="424.74"/><line x1="414.00" y1="399.68" x2="409.00" y2="399.68"/><line x1="414.00" y1="374.63" x2="409.00" y2="374.63"/><line x1="414.00" y1="349.58" x2="409.00" y2="349.58"/><line x1="414.00" y1="324.53" x2="409.00" y2="324.53"/></g>
<rect x="414.00" y="312.00" width="310.40" height="238.00" fill="none" stroke="#3c3c3c" stroke-width="1.5"/>
<text x="436.2" y="565.0" font-size="9.0" text-anchor="middle" fill="#111">-3</text><text x="480.5" y="565.0" font-size="9.0" text-anchor="middle" fill="#111">-2</text><text x="524.9" y="565.0" font-size="9.0" text-anchor="middle" fill="#111">-1</text><text x="569.2" y="565.0" font-size="9.0" text-anchor="middle" fill="#111">0</text><text x="613.5" y="565.0" font-size="9.0" text-anchor="middle" fill="#111">1</text><text x="657.9" y="565.0" font-size="9.0" text-anchor="middle" fill="#111">2</text><text x="702.2" y="565.0" font-size="9.0" text-anchor="middle" fill="#111">3</text><text x="406.5" y="552.6" font-size="9.0" text-anchor="end" fill="#111" letter-spacing="0.5">-4.5</text><text x="406.5" y="527.6" font-size="9.0" text-anchor="end" fill="#111" letter-spacing="0.5">-4.0</text><text x="406.5" y="502.5" font-size="9.0" text-anchor="end" fill="#111" letter-spacing="0.5">-3.5</text><text x="406.5" y="477.5" font-size="9.0" text-anchor="end" fill="#111" letter-spacing="0.5">-3.0</text><text x="406.5" y="452.4" font-size="9.0" text-anchor="end" fill="#111" letter-spacing="0.5">-2.5</text><text x="406.5" y="427.3" font-size="9.0" text-anchor="end" fill="#111" letter-spacing="0.5">-2.0</text><text x="406.5" y="402.3" font-size="9.0" text-anchor="end" fill="#111" letter-spacing="0.5">-1.5</text><text x="406.5" y="377.2" font-size="9.0" text-anchor="end" fill="#111" letter-spacing="0.5">-1.0</text><text x="406.5" y="352.2" font-size="9.0" text-anchor="end" fill="#111" letter-spacing="0.5">-0.5</text><text x="406.5" y="327.1" font-size="9.0" text-anchor="end" fill="#111" letter-spacing="0.5">0.0</text>
<g fill="#0000d8" stroke="#00003a" stroke-width="1.1"><rect x="442.6" y="522.3" width="6.0" height="6.0"/><rect x="452.3" y="511.2" width="6.0" height="6.0"/><rect x="472.7" y="487.9" width="6.0" height="6.0"/><rect x="497.9" y="459.6" width="6.0" height="6.0"/><rect x="517.2" y="438.0" width="6.0" height="6.0"/><rect x="577.4" y="370.0" width="6.0" height="6.0"/><rect x="579.7" y="368.4" width="6.0" height="6.0"/><rect x="605.3" y="339.9" width="6.0" height="6.0"/><rect x="606.4" y="344.6" width="6.0" height="6.0"/><rect x="608.0" y="334.4" width="6.0" height="6.0"/><rect x="610.7" y="332.6" width="6.0" height="6.0"/><rect x="623.6" y="342.6" width="6.0" height="6.0"/><rect x="652.9" y="377.0" width="6.0" height="6.0"/><rect x="656.3" y="379.7" width="6.0" height="6.0"/><rect x="663.5" y="386.3" width="6.0" height="6.0"/><rect x="672.6" y="392.2" width="6.0" height="6.0"/><rect x="674.4" y="393.6" width="6.0" height="6.0"/><rect x="677.1" y="394.5" width="6.0" height="6.0"/><rect x="690.2" y="407.6" width="6.0" height="6.0"/><rect x="691.2" y="407.2" width="6.0" height="6.0"/></g>
<text x="428.6" y="528.7" font-size="9.5" text-anchor="start" fill="#111">Hf</text><text x="441.7" y="512.8" font-size="9.5" text-anchor="start" fill="#111">Zr</text><text x="458.3" y="489.0" font-size="9.5" text-anchor="start" fill="#111">Nb</text><text x="486.6" y="461.8" font-size="9.5" text-anchor="start" fill="#111">Ti</text><text x="503.6" y="439.6" font-size="9.5" text-anchor="start" fill="#111">Sc</text><text x="610.3" y="329.4" font-size="9.5" text-anchor="start" fill="#111">Ir</text><text x="594.7" y="334.6" font-size="9.5" text-anchor="start" fill="#111">Rh</text><text x="590.6" y="346.4" font-size="9.5" text-anchor="start" fill="#111">Fe</text><text x="630.7" y="344.6" font-size="9.5" text-anchor="start" fill="#111">Co</text><text x="601.9" y="360.7" font-size="9.5" text-anchor="start" fill="#111">Mn</text><text x="574.1" y="365.0" font-size="9.5" text-anchor="start" fill="#111">Cr</text><text x="561.8" y="375.9" font-size="9.5" text-anchor="start" fill="#111">Ru</text><text x="653.6" y="370.2" font-size="9.5" text-anchor="start" fill="#111">Cd</text><text x="664.3" y="380.4" font-size="9.5" text-anchor="start" fill="#111">Zn</text><text x="676.0" y="389.0" font-size="9.5" text-anchor="start" fill="#111">Cu</text><text x="654.7" y="399.7" font-size="9.5" text-anchor="start" fill="#111">Ni</text><text x="685.8" y="399.7" font-size="9.5" text-anchor="start" fill="#111">Pd</text><text x="667.7" y="410.3" font-size="9.5" text-anchor="start" fill="#111">Pt</text><text x="701.0" y="411.7" font-size="9.5" text-anchor="start" fill="#111">Au</text><text x="682.4" y="423.5" font-size="9.5" text-anchor="start" fill="#111">Ag</text>
<text x="569.2" y="584.5" font-size="12" text-anchor="middle" fill="#111">&#916;G<tspan font-size="7.44" dy="2.64">*OH</tspan><tspan dy="-2.64" font-size="12">&#8203;</tspan> (eV)</text>
<text x="383.5" y="430.5" font-size="12" text-anchor="middle" fill="#111" transform="rotate(-90 383.5 430.5)">&#8722;&#951;<tspan font-size="7.44" dy="2.64">ORR</tspan><tspan dy="-2.64" font-size="12">&#8203;</tspan> (V)</text>
<text x="411.7" y="306.1" font-size="22" text-anchor="start" fill="#111">(d)</text>
<g shape-rendering="crispEdges">
<polygon points="323.86,612.00 329.00,612.00 329.00,870.10 326.49,870.10 257.99,728.98" fill="url(#eg0)"/>
<polygon points="131.05,612.00 324.45,612.00 258.39,729.30 204.56,721.65" fill="url(#eg1)"/>
<polygon points="258.39,728.78 327.00,870.10 81.20,870.10 204.56,721.14" fill="url(#eg2)"/>
<polygon points="48.00,612.00 131.75,612.00 205.14,721.48 82.06,870.10 48.00,870.10" fill="url(#eg3)"/>
</g>
<rect x="329.00" y="612.00" width="19.90" height="258.10" fill="url(#ecb)" shape-rendering="crispEdges"/>
<g stroke="#3c3c3c" stroke-width="1"><line x1="348.90" y1="616.80" x2="352.40" y2="616.80"/><line x1="348.90" y1="647.89" x2="352.40" y2="647.89"/><line x1="348.90" y1="678.97" x2="352.40" y2="678.97"/><line x1="348.90" y1="710.06" x2="352.40" y2="710.06"/><line x1="348.90" y1="741.15" x2="352.40" y2="741.15"/><line x1="348.90" y1="772.24" x2="352.40" y2="772.24"/><line x1="348.90" y1="803.33" x2="352.40" y2="803.33"/><line x1="348.90" y1="834.41" x2="352.40" y2="834.41"/><line x1="348.90" y1="865.50" x2="352.40" y2="865.50"/></g>
<text x="355.9" y="619.4" font-size="7.7" text-anchor="start" fill="#111">3.11</text><text x="355.9" y="650.5" font-size="7.7" text-anchor="start" fill="#111">2.75</text><text x="355.9" y="681.6" font-size="7.7" text-anchor="start" fill="#111">2.40</text><text x="355.9" y="712.7" font-size="7.7" text-anchor="start" fill="#111">2.04</text><text x="355.9" y="743.8" font-size="7.7" text-anchor="start" fill="#111">1.69</text><text x="355.9" y="774.8" font-size="7.7" text-anchor="start" fill="#111">1.33</text><text x="355.9" y="805.9" font-size="7.7" text-anchor="start" fill="#111">0.98</text><text x="355.9" y="837.0" font-size="7.7" text-anchor="start" fill="#111">0.62</text><text x="355.9" y="868.1" font-size="7.7" text-anchor="start" fill="#111">0.27</text>
<g fill="none" stroke="#111" stroke-width="1.1" stroke-dasharray="3.4 2.6"><polyline points="137.9,614 209.8,722.9 252.3,730.4 323.1,618.2"/><line x1="209.8" y1="722.9" x2="67.7" y2="869.3"/><line x1="252.3" y1="730.4" x2="312.6" y2="839.5"/></g>
<line x1="329" y1="612" x2="329" y2="870.1" stroke="#111" stroke-width="1.6"/>
<path d="M48,870.1 H348.9 M48,612 H348.9 M348.9,612 V870.1" fill="none" stroke="#3c3c3c" stroke-width="1.1"/>
<line x1="48" y1="612" x2="48" y2="870.1" stroke="#3c3c3c" stroke-width="1.3"/>
<g stroke="#3c3c3c" stroke-width="1.3" fill="none"><line x1="67.38" y1="870.10" x2="67.38" y2="872.90"/><line x1="115.83" y1="870.10" x2="115.83" y2="872.90"/><line x1="164.28" y1="870.10" x2="164.28" y2="872.90"/><line x1="212.72" y1="870.10" x2="212.72" y2="872.90"/><line x1="261.17" y1="870.10" x2="261.17" y2="872.90"/><line x1="309.62" y1="870.10" x2="309.62" y2="872.90"/><line x1="91.60" y1="870.10" x2="91.60" y2="875.10"/><line x1="140.05" y1="870.10" x2="140.05" y2="875.10"/><line x1="188.50" y1="870.10" x2="188.50" y2="875.10"/><line x1="236.95" y1="870.10" x2="236.95" y2="875.10"/><line x1="285.40" y1="870.10" x2="285.40" y2="875.10"/><line x1="48.00" y1="831.38" x2="45.20" y2="831.38"/><line x1="48.00" y1="788.37" x2="45.20" y2="788.37"/><line x1="48.00" y1="745.35" x2="45.20" y2="745.35"/><line x1="48.00" y1="702.34" x2="45.20" y2="702.34"/><line x1="48.00" y1="659.32" x2="45.20" y2="659.32"/><line x1="48.00" y1="616.30" x2="45.20" y2="616.30"/><line x1="48.00" y1="852.89" x2="43.00" y2="852.89"/><line x1="48.00" y1="809.88" x2="43.00" y2="809.88"/><line x1="48.00" y1="766.86" x2="43.00" y2="766.86"/><line x1="48.00" y1="723.84" x2="43.00" y2="723.84"/><line x1="48.00" y1="680.83" x2="43.00" y2="680.83"/><line x1="48.00" y1="637.81" x2="43.00" y2="637.81"/></g>
<text x="91.6" y="885.1" font-size="9.0" text-anchor="middle" fill="#111">-2</text><text x="140.1" y="885.1" font-size="9.0" text-anchor="middle" fill="#111">-1</text><text x="188.5" y="885.1" font-size="9.0" text-anchor="middle" fill="#111">0</text><text x="236.9" y="885.1" font-size="9.0" text-anchor="middle" fill="#111">1</text><text x="285.4" y="885.1" font-size="9.0" text-anchor="middle" fill="#111">2</text><text x="40.5" y="855.5" font-size="9.0" text-anchor="end" fill="#111" letter-spacing="0.5">0.0</text><text x="40.5" y="812.5" font-size="9.0" text-anchor="end" fill="#111" letter-spacing="0.5">0.5</text><text x="40.5" y="769.5" font-size="9.0" text-anchor="end" fill="#111" letter-spacing="0.5">1.0</text><text x="40.5" y="726.5" font-size="9.0" text-anchor="end" fill="#111" letter-spacing="0.5">1.5</text><text x="40.5" y="683.4" font-size="9.0" text-anchor="end" fill="#111" letter-spacing="0.5">2.0</text><text x="40.5" y="640.4" font-size="9.0" text-anchor="end" fill="#111" letter-spacing="0.5">2.5</text>
<g fill="#000"><circle cx="134.8" cy="616.8" r="3.1"/><circle cx="54.3" cy="757.0" r="3.1"/><circle cx="64.3" cy="776.7" r="3.1"/><circle cx="114.6" cy="847.0" r="3.1"/><circle cx="84.7" cy="865.8" r="3.1"/><circle cx="200.3" cy="808.5" r="3.1"/><circle cx="206.2" cy="829.1" r="3.1"/><circle cx="288.3" cy="637.3" r="3.1"/><circle cx="283.7" cy="646.1" r="3.1"/><circle cx="320.7" cy="654.9" r="3.1"/><circle cx="324.9" cy="664.0" r="3.1"/><circle cx="305.7" cy="664.6" r="3.1"/><circle cx="313.0" cy="669.5" r="3.1"/><circle cx="309.5" cy="676.7" r="3.1"/><circle cx="295.8" cy="709.3" r="3.1"/><circle cx="233.6" cy="714.8" r="3.1"/><circle cx="248.1" cy="739.8" r="3.1"/><circle cx="237.1" cy="749.2" r="3.1"/><circle cx="229.6" cy="772.3" r="3.1"/><circle cx="234.4" cy="791.5" r="3.1"/></g>
<text x="131.1" y="628.5" font-size="8.1" text-anchor="start" fill="#111">Sc</text><text x="59.1" y="759.7" font-size="8.1" text-anchor="start" fill="#111">Hf</text><text x="69.5" y="779.4" font-size="8.1" text-anchor="start" fill="#111">Zr</text><text x="120.2" y="845.3" font-size="8.1" text-anchor="start" fill="#111">Ti</text><text x="89.7" y="866.2" font-size="8.1" text-anchor="start" fill="#111">Nb</text><text x="199.8" y="800.6" font-size="8.1" text-anchor="start" fill="#111">Ru</text><text x="207.6" y="839.0" font-size="8.1" text-anchor="start" fill="#111">Cr</text><text x="287.9" y="629.6" font-size="8.1" text-anchor="start" fill="#111">Zn</text><text x="267.0" y="645.0" font-size="8.1" text-anchor="start" fill="#111">Cd</text><text x="314.3" y="646.5" font-size="8.1" text-anchor="start" fill="#111">Ag</text><text x="309.9" y="663.3" font-size="8.1" text-anchor="start" fill="#111">Au</text><text x="295.2" y="674.3" font-size="8.1" text-anchor="start" fill="#111">Cu</text><text x="315.4" y="679.5" font-size="8.1" text-anchor="start" fill="#111">Pd</text><text x="297.8" y="685.7" font-size="8.1" text-anchor="start" fill="#111">Pt</text><text x="289.4" y="720.3" font-size="8.1" text-anchor="start" fill="#111">Ni</text><text x="221.5" y="710.6" font-size="8.1" text-anchor="start" fill="#111">Rh</text><text x="226.3" y="748.8" font-size="8.1" text-anchor="start" fill="#111">Ir</text><text x="246.1" y="751.0" font-size="8.1" text-anchor="start" fill="#111">Co</text><text x="217.5" y="770.1" font-size="8.1" text-anchor="start" fill="#111">Fe</text><text x="231.8" y="802.7" font-size="8.1" text-anchor="start" fill="#111">Mn</text>
<g transform="translate(197.30 621.30)" fill="#0a0a0a" stroke="#0a0a0a" stroke-width="0.22"><text x="0.00" y="0" font-size="9.7">Step 2: *OH</text><path d="M51.22,-2.38 H59.23 M56.62,-4.28 L59.23,-2.38 L56.62,-0.48" fill="none" stroke="#111" stroke-width="0.85" stroke-linejoin="miter"/><text x="61.95" y="0" font-size="9.7">*O</text></g>
<g transform="translate(201.40 861.00)" fill="#0a0a0a" stroke="#0a0a0a" stroke-width="0.22"><text x="0.00" y="0" font-size="9.7">Step 3: *O</text><path d="M44.22,-2.38 H52.22 M49.62,-4.28 L52.22,-2.38 L49.62,-0.48" fill="none" stroke="#111" stroke-width="0.85" stroke-linejoin="miter"/><text x="54.94" y="0" font-size="9.7">*OOH</text></g>
<g transform="translate(118.10 678.50) rotate(90)" fill="#0a0a0a" stroke="#0a0a0a" stroke-width="0.22"><text x="0.00" y="0" font-size="9.7">Step 4: *OOH</text><path d="M58.23,-2.38 H66.23 M63.63,-4.28 L66.23,-2.38 L63.63,-0.48" fill="none" stroke="#111" stroke-width="0.85" stroke-linejoin="miter"/><text x="68.96" y="0" font-size="9.7">* + O</text><text x="91.13" y="2.33" font-size="6.21">2</text></g>
<g transform="translate(313.00 705.00) rotate(90)" fill="#0a0a0a" stroke="#0a0a0a" stroke-width="0.22"><text x="0.00" y="0" font-size="9.7">Step 1: * + H</text><text x="51.82" y="2.33" font-size="6.21">2</text><text x="54.92" y="0" font-size="9.7">O</text><path d="M64.65,-2.38 H72.65 M70.05,-4.28 L72.65,-2.38 L70.05,-0.48" fill="none" stroke="#111" stroke-width="0.85" stroke-linejoin="miter"/><text x="75.38" y="0" font-size="9.7">*OH</text></g>
<text x="188.5" y="904.0" font-size="12" text-anchor="middle" fill="#111">&#916;G<tspan font-size="7.44" dy="2.64">*OH</tspan><tspan dy="-2.64" font-size="12">&#8203;</tspan> (eV)</text>
<text x="20.5" y="744.0" font-size="12.4" text-anchor="middle" fill="#111" transform="rotate(-90 20.5 744.0)">&#916;G<tspan font-size="7.69" dy="2.73">*O</tspan><tspan dy="-2.73" font-size="12.4">&#8203;</tspan> &#8722; &#916;G<tspan font-size="7.69" dy="2.73">*OH</tspan><tspan dy="-2.73" font-size="12.4">&#8203;</tspan> (eV)</text>
<text x="56.6" y="606.1" font-size="22" text-anchor="start" fill="#111">(e)</text>
<g shape-rendering="crispEdges">
<polygon points="648.80,611.30 703.20,611.30 703.20,869.80 678.66,869.80 610.08,767.72 610.08,668.93" fill="url(#fg0)"/>
<polygon points="577.27,611.30 649.49,611.30 610.24,669.73" fill="url(#fg1)"/>
<polygon points="610.24,766.92 679.35,869.80 552.19,869.80" fill="url(#fg2)"/>
<polygon points="421.60,611.30 577.85,611.30 610.40,668.98 610.40,767.68 552.77,869.80 421.60,869.80" fill="url(#fg3)"/>
</g>
<rect x="703.20" y="611.30" width="19.40" height="258.50" fill="url(#fcb)" shape-rendering="crispEdges"/>
<g stroke="#3c3c3c" stroke-width="1"><line x1="722.60" y1="616.30" x2="726.10" y2="616.30"/><line x1="722.60" y1="647.39" x2="726.10" y2="647.39"/><line x1="722.60" y1="678.47" x2="726.10" y2="678.47"/><line x1="722.60" y1="709.56" x2="726.10" y2="709.56"/><line x1="722.60" y1="740.65" x2="726.10" y2="740.65"/><line x1="722.60" y1="771.74" x2="726.10" y2="771.74"/><line x1="722.60" y1="802.83" x2="726.10" y2="802.83"/><line x1="722.60" y1="833.91" x2="726.10" y2="833.91"/><line x1="722.60" y1="865.00" x2="726.10" y2="865.00"/></g>
<text x="729.6" y="618.9" font-size="7.7" text-anchor="start" fill="#111">3.11</text><text x="729.6" y="650.0" font-size="7.7" text-anchor="start" fill="#111">2.75</text><text x="729.6" y="681.1" font-size="7.7" text-anchor="start" fill="#111">2.40</text><text x="729.6" y="712.2" font-size="7.7" text-anchor="start" fill="#111">2.04</text><text x="729.6" y="743.2" font-size="7.7" text-anchor="start" fill="#111">1.69</text><text x="729.6" y="774.3" font-size="7.7" text-anchor="start" fill="#111">1.33</text><text x="729.6" y="805.4" font-size="7.7" text-anchor="start" fill="#111">0.98</text><text x="729.6" y="836.5" font-size="7.7" text-anchor="start" fill="#111">0.62</text><text x="729.6" y="867.6" font-size="7.7" text-anchor="start" fill="#111">0.27</text>
<g fill="none" stroke="#111" stroke-width="1.1" stroke-dasharray="3.4 2.6"><polyline points="574,610.7 612.5,663.5 659.4,610.7"/><line x1="612.5" y1="663.5" x2="611" y2="778.5"/><polyline points="554.7,864.2 611,778.5 669.6,867.4"/></g>
<line x1="703.2" y1="611.3" x2="703.2" y2="869.8" stroke="#111" stroke-width="1.6"/>
<path d="M421.6,869.8 H722.6 M421.6,611.3 H722.6 M722.6,611.3 V869.8" fill="none" stroke="#3c3c3c" stroke-width="1.1"/>
<line x1="421.6" y1="611.3" x2="421.6" y2="869.8" stroke="#3c3c3c" stroke-width="1.3"/>
<g stroke="#3c3c3c" stroke-width="1.3" fill="none"><line x1="441.25" y1="869.80" x2="441.25" y2="872.60"/><line x1="489.76" y1="869.80" x2="489.76" y2="872.60"/><line x1="538.27" y1="869.80" x2="538.27" y2="872.60"/><line x1="586.78" y1="869.80" x2="586.78" y2="872.60"/><line x1="635.29" y1="869.80" x2="635.29" y2="872.60"/><line x1="683.80" y1="869.80" x2="683.80" y2="872.60"/><line x1="465.50" y1="869.80" x2="465.50" y2="874.80"/><line x1="514.01" y1="869.80" x2="514.01" y2="874.80"/><line x1="562.52" y1="869.80" x2="562.52" y2="874.80"/><line x1="611.03" y1="869.80" x2="611.03" y2="874.80"/><line x1="659.54" y1="869.80" x2="659.54" y2="874.80"/><line x1="421.60" y1="830.51" x2="418.80" y2="830.51"/><line x1="421.60" y1="787.53" x2="418.80" y2="787.53"/><line x1="421.60" y1="744.55" x2="418.80" y2="744.55"/><line x1="421.60" y1="701.56" x2="418.80" y2="701.56"/><line x1="421.60" y1="658.58" x2="418.80" y2="658.58"/><line x1="421.60" y1="615.60" x2="418.80" y2="615.60"/><line x1="421.60" y1="852.01" x2="416.60" y2="852.01"/><line x1="421.60" y1="809.02" x2="416.60" y2="809.02"/><line x1="421.60" y1="766.04" x2="416.60" y2="766.04"/><line x1="421.60" y1="723.06" x2="416.60" y2="723.06"/><line x1="421.60" y1="680.07" x2="416.60" y2="680.07"/><line x1="421.60" y1="637.09" x2="416.60" y2="637.09"/></g>
<text x="465.5" y="884.8" font-size="9.0" text-anchor="middle" fill="#111">-2</text><text x="514.0" y="884.8" font-size="9.0" text-anchor="middle" fill="#111">-1</text><text x="562.5" y="884.8" font-size="9.0" text-anchor="middle" fill="#111">0</text><text x="611.0" y="884.8" font-size="9.0" text-anchor="middle" fill="#111">1</text><text x="659.5" y="884.8" font-size="9.0" text-anchor="middle" fill="#111">2</text><text x="414.1" y="854.6" font-size="9.0" text-anchor="end" fill="#111" letter-spacing="0.5">0.0</text><text x="414.1" y="811.6" font-size="9.0" text-anchor="end" fill="#111" letter-spacing="0.5">0.5</text><text x="414.1" y="768.6" font-size="9.0" text-anchor="end" fill="#111" letter-spacing="0.5">1.0</text><text x="414.1" y="725.7" font-size="9.0" text-anchor="end" fill="#111" letter-spacing="0.5">1.5</text><text x="414.1" y="682.7" font-size="9.0" text-anchor="end" fill="#111" letter-spacing="0.5">2.0</text><text x="414.1" y="639.7" font-size="9.0" text-anchor="end" fill="#111" letter-spacing="0.5">2.5</text>
<g fill="#000"><circle cx="508.4" cy="616.3" r="3.1"/><circle cx="427.9" cy="756.5" r="3.1"/><circle cx="437.9" cy="776.2" r="3.1"/><circle cx="488.2" cy="846.5" r="3.1"/><circle cx="458.3" cy="865.3" r="3.1"/><circle cx="573.9" cy="808.0" r="3.1"/><circle cx="579.8" cy="828.6" r="3.1"/><circle cx="661.9" cy="636.8" r="3.1"/><circle cx="657.3" cy="645.6" r="3.1"/><circle cx="694.3" cy="654.4" r="3.1"/><circle cx="698.5" cy="663.5" r="3.1"/><circle cx="679.3" cy="664.1" r="3.1"/><circle cx="686.6" cy="669.0" r="3.1"/><circle cx="683.1" cy="676.2" r="3.1"/><circle cx="669.4" cy="708.8" r="3.1"/><circle cx="607.2" cy="714.3" r="3.1"/><circle cx="621.7" cy="739.3" r="3.1"/><circle cx="610.7" cy="748.7" r="3.1"/><circle cx="603.2" cy="771.8" r="3.1"/><circle cx="608.0" cy="791.0" r="3.1"/></g>
<text x="504.7" y="628.0" font-size="8.1" text-anchor="start" fill="#111">Sc</text><text x="432.7" y="759.2" font-size="8.1" text-anchor="start" fill="#111">Hf</text><text x="443.1" y="778.9" font-size="8.1" text-anchor="start" fill="#111">Zr</text><text x="493.8" y="844.8" font-size="8.1" text-anchor="start" fill="#111">Ti</text><text x="463.3" y="865.7" font-size="8.1" text-anchor="start" fill="#111">Nb</text><text x="573.4" y="800.1" font-size="8.1" text-anchor="start" fill="#111">Ru</text><text x="581.2" y="838.5" font-size="8.1" text-anchor="start" fill="#111">Cr</text><text x="661.5" y="629.1" font-size="8.1" text-anchor="start" fill="#111">Zn</text><text x="640.6" y="644.5" font-size="8.1" text-anchor="start" fill="#111">Cd</text><text x="687.9" y="646.0" font-size="8.1" text-anchor="start" fill="#111">Ag</text><text x="683.5" y="662.8" font-size="8.1" text-anchor="start" fill="#111">Au</text><text x="668.8" y="673.8" font-size="8.1" text-anchor="start" fill="#111">Cu</text><text x="689.0" y="679.0" font-size="8.1" text-anchor="start" fill="#111">Pd</text><text x="671.4" y="685.2" font-size="8.1" text-anchor="start" fill="#111">Pt</text><text x="663.0" y="719.8" font-size="8.1" text-anchor="start" fill="#111">Ni</text><text x="595.1" y="710.1" font-size="8.1" text-anchor="start" fill="#111">Rh</text><text x="599.9" y="748.3" font-size="8.1" text-anchor="start" fill="#111">Ir</text><text x="619.7" y="750.5" font-size="8.1" text-anchor="start" fill="#111">Co</text><text x="591.1" y="769.6" font-size="8.1" text-anchor="start" fill="#111">Fe</text><text x="605.4" y="802.2" font-size="8.1" text-anchor="start" fill="#111">Mn</text>
<g transform="translate(571.70 621.30)" fill="#0a0a0a" stroke="#0a0a0a" stroke-width="0.22"><text x="0.00" y="0" font-size="9.7">Step 2: *OOH</text><path d="M58.23,-2.38 H66.23 M63.63,-4.28 L66.23,-2.38 L63.63,-0.48" fill="none" stroke="#111" stroke-width="0.85" stroke-linejoin="miter"/><text x="68.96" y="0" font-size="9.7">*O</text></g>
<g transform="translate(575.80 859.70)" fill="#0a0a0a" stroke="#0a0a0a" stroke-width="0.22"><text x="0.00" y="0" font-size="9.7">Step 3: *O</text><path d="M44.22,-2.38 H52.22 M49.62,-4.28 L52.22,-2.38 L49.62,-0.48" fill="none" stroke="#111" stroke-width="0.85" stroke-linejoin="miter"/><text x="54.94" y="0" font-size="9.7">*OH</text></g>
<g transform="translate(493.20 678.30) rotate(90)" fill="#0a0a0a" stroke="#0a0a0a" stroke-width="0.22"><text x="0.00" y="0" font-size="9.7">Step 4: *OH</text><path d="M51.22,-2.38 H59.23 M56.62,-4.28 L59.23,-2.38 L56.62,-0.48" fill="none" stroke="#111" stroke-width="0.85" stroke-linejoin="miter"/><text x="61.95" y="0" font-size="9.7">* + H</text><text x="84.13" y="2.33" font-size="6.21">2</text><text x="87.23" y="0" font-size="9.7">O</text></g>
<g transform="translate(687.30 705.50) rotate(90)" fill="#0a0a0a" stroke="#0a0a0a" stroke-width="0.22"><text x="0.00" y="0" font-size="9.7">Step 1: * + O</text><text x="51.82" y="2.33" font-size="6.21">2</text><text x="57.35" y="0" font-size="9.7"></text><path d="M57.65,-2.38 H65.65 M63.05,-4.28 L65.65,-2.38 L63.05,-0.48" fill="none" stroke="#111" stroke-width="0.85" stroke-linejoin="miter"/><text x="68.37" y="0" font-size="9.7">*OOH</text></g>
<text x="562.4" y="904.0" font-size="12" text-anchor="middle" fill="#111">&#916;G<tspan font-size="7.44" dy="2.64">*OH</tspan><tspan dy="-2.64" font-size="12">&#8203;</tspan> (eV)</text>
<text x="394.5" y="743.5" font-size="12.4" text-anchor="middle" fill="#111" transform="rotate(-90 394.5 743.5)">&#916;G<tspan font-size="7.69" dy="2.73">*O</tspan><tspan dy="-2.73" font-size="12.4">&#8203;</tspan> &#8722; &#916;G<tspan font-size="7.69" dy="2.73">*OH</tspan><tspan dy="-2.73" font-size="12.4">&#8203;</tspan> (eV)</text>
<text x="419.5" y="604.3" font-size="22" text-anchor="start" fill="#111">(f)</text>
</svg>
</body></html>
